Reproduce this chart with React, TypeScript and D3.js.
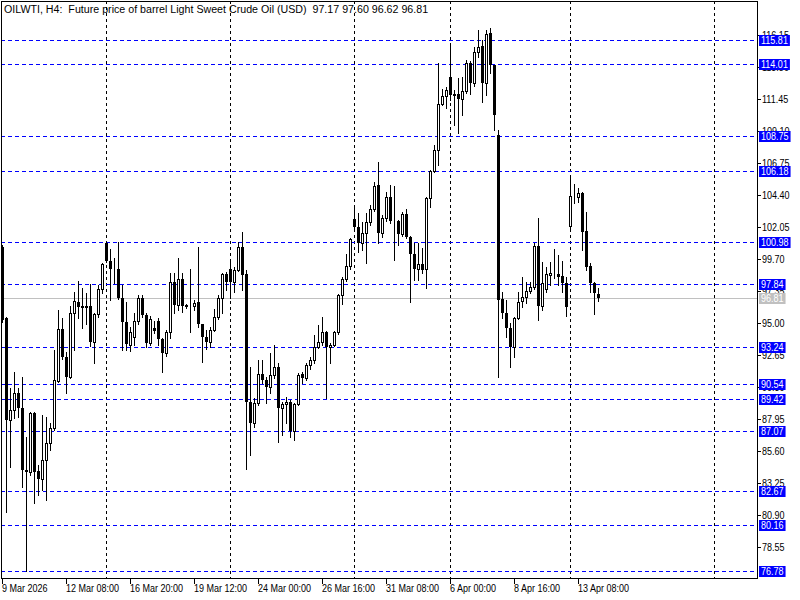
import React, { useEffect, useRef } from 'react';
import * as d3 from 'd3';

// H4 bars, oldest first
const opens = [
  100.58, 95.38, 87.89, 88.62, 89.87, 88.77, 84.22, 84.08, 88.4, 84.15,
  83.56, 84.96, 86.2, 87.31, 90.76, 94.57, 92.51, 91.05, 95.74, 96.55,
  96.18, 96.2, 96.26, 93.62, 95.67, 97.5, 100.88, 99.56, 98.97, 98.97,
  96.84, 95.08, 93.4, 94.0, 95.16, 96.84, 95.6, 93.54, 94.64, 95.16,
  93.84, 92.81, 94.35, 98.02, 96.33, 98.24, 96.26, 96.26, 96.26, 96.55,
  94.94, 93.98, 93.62, 94.5, 95.45, 96.84, 98.6, 98.97, 98.02, 98.9,
  100.58, 98.6, 89.21, 87.67, 89.14, 91.27, 90.83, 90.31, 91.19, 91.78,
  88.77, 89.07, 89.21, 87.09, 89.07, 91.27, 90.97, 91.93, 92.29, 93.25,
  93.62, 94.35, 93.25, 93.4, 94.35, 97.06, 98.24, 99.19, 102.64, 102.05,
  100.88, 101.61, 102.42, 103.37, 105.13, 101.61, 102.71, 104.25, 102.49, 102.49,
  101.54, 103.0, 101.32, 100.07, 98.97, 99.34, 98.97, 104.18, 106.16, 107.7,
  111.08, 111.66, 113.06, 111.81, 111.81, 111.44, 112.03, 114.08, 112.62, 114.89,
  115.33, 112.62, 116.28, 113.94, 108.8, 96.77, 95.74, 94.64, 93.25, 95.38,
  96.62, 96.92, 97.36, 97.65, 100.66, 96.26, 97.5, 98.53, 98.6, 98.6,
  98.46, 97.94, 102.13, 104.33, 104.25, 104.55, 101.76, 99.19, 97.94, 97.17,
];
const highs = [
  100.7, 95.45, 90.24, 91.41, 90.24, 91.05, 86.64, 88.48, 88.48, 84.59,
  88.26, 88.1, 87.67, 93.03, 95.96, 95.38, 92.88, 96.26, 97.28, 98.09,
  97.58, 97.21, 97.87, 95.74, 97.8, 99.41, 100.95, 100.44, 99.78, 100.95,
  97.8, 96.55, 94.72, 95.74, 97.06, 97.06, 95.74, 95.52, 95.16, 95.38,
  93.91, 94.5, 98.68, 98.68, 99.78, 98.68, 96.4, 98.97, 96.7, 100.58,
  94.94, 94.5, 94.72, 96.04, 97.06, 98.68, 98.75, 99.63, 99.12, 100.95,
  101.69, 98.9, 91.78, 89.5, 92.29, 92.29, 91.05, 92.81, 93.4, 92.07,
  89.21, 89.58, 89.36, 89.14, 91.34, 91.41, 92.07, 92.51, 94.13, 94.86,
  95.45, 94.4, 93.54, 94.42, 97.14, 98.38, 100.07, 101.25, 103.52, 103.08,
  102.42, 103.08, 103.67, 105.35, 106.82, 102.93, 104.62, 105.13, 105.06, 102.57,
  103.15, 103.37, 101.39, 100.88, 100.88, 100.51, 104.25, 106.23, 108.07, 114.08,
  112.18, 112.32, 115.4, 112.1, 112.98, 113.06, 114.3, 114.23, 115.26, 116.5,
  115.77, 116.5, 116.65, 113.94, 109.17, 97.28, 96.7, 94.99, 95.45, 97.28,
  98.38, 98.02, 98.02, 100.88, 102.71, 99.48, 99.12, 99.48, 100.44, 100.0,
  99.56, 98.38, 105.65, 105.2, 104.91, 104.62, 103.15, 99.41, 98.02, 97.6,
];
const lows = [
  95.1, 81.14, 84.44, 88.03, 88.1, 82.98, 76.78, 83.86, 81.8, 82.39,
  82.76, 82.02, 85.69, 87.16, 90.68, 92.4, 89.87, 90.98, 93.03, 95.38,
  94.64, 94.9, 93.32, 92.07, 95.45, 97.2, 99.5, 96.7, 97.94, 96.77,
  93.03, 93.03, 92.95, 93.4, 94.9, 95.45, 93.25, 93.4, 94.28, 93.4,
  91.41, 92.6, 93.91, 95.74, 95.96, 95.82, 96.1, 94.35, 95.96, 94.72,
  92.15, 93.1, 93.25, 94.42, 95.3, 95.74, 97.43, 96.84, 97.28, 98.8,
  97.43, 84.3, 85.33, 87.38, 89.0, 90.6, 89.14, 89.9, 91.0, 86.28,
  86.79, 87.67, 86.64, 86.42, 89.0, 90.6, 90.83, 91.6, 92.1, 93.18,
  93.4, 89.5, 92.07, 93.3, 94.2, 96.4, 98.1, 99.0, 101.83, 100.22,
  100.36, 99.41, 102.2, 103.2, 100.88, 101.32, 102.5, 102.35, 99.63, 100.73,
  101.4, 101.25, 96.55, 98.16, 98.16, 98.68, 97.58, 103.5, 106.09, 106.6,
  111.0, 110.78, 111.37, 109.54, 108.95, 110.27, 111.9, 111.81, 112.4, 114.52,
  111.22, 111.74, 113.35, 109.17, 91.05, 95.38, 93.98, 91.78, 92.51, 95.3,
  96.18, 96.48, 97.2, 97.5, 95.23, 95.96, 97.3, 97.8, 98.31, 97.8,
  97.28, 95.52, 101.98, 103.81, 103.9, 100.36, 98.9, 97.28, 95.67, 96.62,
];
const closes = [
  95.23, 87.89, 88.62, 89.87, 88.77, 84.22, 84.08, 88.4, 84.08, 83.56,
  84.96, 86.2, 87.31, 90.83, 94.57, 92.51, 91.05, 95.74, 96.62, 96.18,
  96.22, 96.24, 93.62, 95.67, 97.5, 99.34, 99.56, 98.97, 98.97, 96.84,
  95.08, 93.47, 94.35, 95.16, 96.84, 95.6, 93.54, 95.3, 94.42, 93.84,
  92.81, 94.35, 98.02, 96.33, 98.24, 96.26, 96.3, 96.26, 96.48, 94.94,
  93.98, 93.62, 94.5, 95.45, 96.84, 98.6, 98.02, 98.02, 98.9, 100.58,
  98.53, 89.21, 87.67, 89.14, 91.27, 90.83, 90.31, 91.19, 91.78, 88.77,
  89.07, 89.21, 87.09, 89.07, 91.19, 90.97, 91.93, 92.29, 93.25, 93.62,
  94.35, 93.25, 93.4, 94.35, 97.06, 98.24, 99.19, 101.17, 102.05, 100.88,
  101.61, 102.42, 103.37, 105.06, 101.61, 102.71, 104.25, 102.49, 102.52, 101.54,
  103.0, 101.32, 100.07, 98.97, 99.34, 98.9, 104.18, 106.16, 107.7, 111.08,
  111.66, 112.1, 111.74, 111.66, 111.44, 112.03, 114.08, 112.62, 114.89, 115.26,
  112.62, 116.21, 113.94, 110.27, 96.7, 95.74, 94.64, 93.25, 95.38, 96.55,
  96.92, 97.36, 97.65, 100.66, 96.26, 97.94, 98.6, 98.68, 98.62, 98.38,
  97.94, 96.18, 104.33, 104.36, 104.55, 101.69, 99.12, 97.94, 97.21, 96.81,
];

const timeLabels = [
  '9 Mar 2026', '12 Mar 08:00', '16 Mar 20:00', '19 Mar 12:00', '24 Mar 00:00',
  '26 Mar 16:00', '31 Mar 08:00', '6 Apr 00:00', '8 Apr 16:00', '13 Apr 08:00',
];
const timeLabelBars = [0, 16, 32, 48, 64, 80, 96, 112, 128, 144];
const gridBars = [26, 57, 88, 112, 142, 178];

const priceTicks = [
  116.15, 113.8, 111.45, 109.1, 106.75, 104.4, 102.05, 99.7, 97.35,
  95.0, 92.65, 90.3, 87.95, 85.6, 83.25, 80.9, 78.55,
];
const levels = [115.81, 114.01, 108.75, 106.18, 100.98, 97.84, 93.24, 90.54, 89.42, 87.07, 82.67, 80.16, 76.78];
const lastPrice = 96.81;
const title = 'OILWTI, H4:  Future price of barrel Light Sweet Crude Oil (USD)  97.17 97.60 96.62 96.81';

const FONT = "'Liberation Sans', Arial, sans-serif";
const NARROW = 0.82; // squeeze Arial-like glyphs to the terminal font's width

const App: React.FC = () => {
  const svgRef = useRef<SVGSVGElement | null>(null);

  useEffect(() => {
    if (!svgRef.current) return;
    const svg = d3.select(svgRef.current);
    svg.selectAll('*').remove();

    const left = 1, top = 1, right = 757, bottom = 578;

    const x = d3.scaleLinear().domain([0, 1]).range([2, 6]);
    const y = d3.scaleLinear().domain([78.55, 116.15]).range([547.3, 34.9]);
    const py = (v: number) => Math.round(y(v));

    svg.append('defs').append('clipPath').attr('id', 'plot')
      .append('rect').attr('x', left + 1).attr('y', top + 1)
      .attr('width', right - left - 1).attr('height', bottom - top - 1);

    const plot = svg.append('g').attr('clip-path', 'url(#plot)');

    // week separators
    plot.selectAll('.vgrid').data(gridBars).enter().append('line')
      .attr('x1', (d) => x(d) + 0.5).attr('x2', (d) => x(d) + 0.5)
      .attr('y1', top).attr('y2', bottom)
      .attr('stroke', '#000').attr('stroke-dasharray', '3,3');

    // horizontal levels
    plot.selectAll('.level').data(levels).enter().append('line')
      .attr('x1', left).attr('x2', right)
      .attr('y1', (d) => py(d) + 0.5).attr('y2', (d) => py(d) + 0.5)
      .attr('stroke', '#0000ff').attr('stroke-dasharray', '4,3');

    plot.append('line')
      .attr('x1', left).attr('x2', right)
      .attr('y1', py(lastPrice) + 0.5).attr('y2', py(lastPrice) + 0.5)
      .attr('stroke', '#c0c0c0');

    // candles
    const idx = d3.range(opens.length);
    const candles = plot.selectAll('.candle').data(idx).enter().append('g');
    candles.append('line')
      .attr('x1', (i) => x(i) + 0.5).attr('x2', (i) => x(i) + 0.5)
      .attr('y1', (i) => py(highs[i])).attr('y2', (i) => py(lows[i]) + 1)
      .attr('stroke', '#000');
    candles.append('rect')
      .attr('x', (i) => (closes[i] >= opens[i] ? x(i) - 0.5 : x(i) - 1))
      .attr('y', (i) => {
        const t = py(Math.max(opens[i], closes[i]));
        return closes[i] >= opens[i] ? t + 0.5 : t;
      })
      .attr('width', (i) => (closes[i] >= opens[i] ? 2 : 3))
      .attr('height', (i) => {
        const h = py(Math.min(opens[i], closes[i])) - py(Math.max(opens[i], closes[i]));
        return closes[i] >= opens[i] ? Math.max(h, 0) : Math.max(h, 1);
      })
      .attr('fill', (i) => (closes[i] >= opens[i] ? '#fff' : '#000'))
      .attr('stroke', (i) => (closes[i] >= opens[i] ? '#000' : 'none'));

    // frame
    svg.append('rect')
      .attr('x', left + 0.5).attr('y', top + 0.5)
      .attr('width', right - left).attr('height', bottom - top)
      .attr('fill', 'none').attr('stroke', '#000');

    const txt = svg.append('g').style('font-family', FONT).style('font-size', '11px');
    const label = (g: any, tx: number, ty: number, s: string, sx: number, fill = '#000') =>
      g.append('text')
        .attr('transform', `translate(${tx},${ty}) scale(${sx},1)`)
        .attr('fill', fill).text(s);

    // price scale
    priceTicks.forEach((t) => {
      const yy = py(t);
      txt.append('line').attr('x1', right).attr('x2', right + 4)
        .attr('y1', yy + 0.5).attr('y2', yy + 0.5).attr('stroke', '#000');
      label(txt, right + 5, yy + 4, t.toFixed(2), NARROW);
    });

    // time scale
    timeLabelBars.forEach((b, k) => {
      const xx = x(b);
      txt.append('line').attr('x1', xx + 0.5).attr('x2', xx + 0.5)
        .attr('y1', bottom).attr('y2', bottom + 6).attr('stroke', '#000');
      label(txt, xx, 592, timeLabels[k], NARROW);
    });

    // level price tags
    const tag = (v: number, bg: string) => {
      const yy = py(v);
      const g = txt.append('g');
      const r = g.append('rect').attr('x', right + 2).attr('y', yy - 5)
        .attr('height', 11).attr('fill', bg);
      const tx = label(g, right + 4, yy + 4, v.toFixed(2), NARROW, '#fff');
      const w = (tx.node() as SVGTextElement).getComputedTextLength() * NARROW;
      r.attr('width', w + 4);
    };
    levels.forEach((v) => tag(v, '#0000ff'));
    tag(lastPrice, '#c0c0c0');

    // header
    label(txt, 4, 13, title, 0.97).style('white-space', 'pre');
  }, []);

  return (
    <svg ref={svgRef} width={800} height={600}
      style={{ position: 'fixed', left: 0, top: 0, background: '#fff' }} />
  );
};

export default App;
